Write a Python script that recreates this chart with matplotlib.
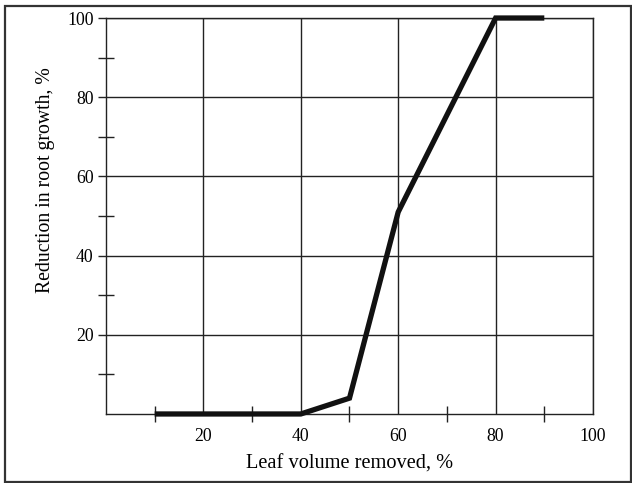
import matplotlib
matplotlib.use('Agg')
import matplotlib.pyplot as plt
from matplotlib.patches import Rectangle
from matplotlib.ticker import FixedLocator

# data
leaf_removed = [10, 40, 50, 60, 80, 90]
root_reduction = [0, 0, 4, 51, 100, 100]

x_ticks = [20, 40, 60, 80, 100]
y_ticks = [20, 40, 60, 80, 100]
minor_ticks = [10, 30, 50, 70, 90]

plt.rcParams['font.family'] = ['Liberation Serif', 'DejaVu Serif']

fig = plt.figure(figsize=(6.32, 4.83), dpi=100)
ax = fig.add_axes([0.1677, 0.1429, 0.7706, 0.8198])

ax.plot(leaf_removed, root_reduction, color='#111111', lw=3.8,
        solid_joinstyle='miter', solid_capstyle='butt', zorder=3, clip_on=False)

ax.set_xlim(0, 100)
ax.set_ylim(0, 100)

ax.xaxis.set_major_locator(FixedLocator(x_ticks))
ax.xaxis.set_minor_locator(FixedLocator(minor_ticks))
ax.yaxis.set_major_locator(FixedLocator(y_ticks))
ax.yaxis.set_minor_locator(FixedLocator(minor_ticks))

ax.grid(True, which='major', color='#222222', lw=1.0)
ax.tick_params(axis='x', which='major', length=0, pad=10, labelsize=12.8)
ax.tick_params(axis='x', which='minor', direction='inout', length=12, width=1.0, color='#222222')
ax.tick_params(axis='y', which='major', direction='out', length=6, width=1.0, color='#222222',
               labelsize=12.8, pad=3)
ax.tick_params(axis='y', which='minor', direction='inout', length=12, width=1.0, color='#222222')

for s in ax.spines.values():
    s.set_color('#222222')
    s.set_linewidth(1.0)

ax.set_xlabel('Leaf volume removed, %', fontsize=14.7, labelpad=7)
ax.set_ylabel('Reduction in root growth, %', fontsize=14.2)
ax.yaxis.set_label_coords(-0.104, 0.59)

fig.patches.append(Rectangle((0.008, 0.003), 0.99, 0.985, transform=fig.transFigure,
                             fill=False, edgecolor='#333333', lw=1.6))

fig.savefig('out.png', dpi=100)
